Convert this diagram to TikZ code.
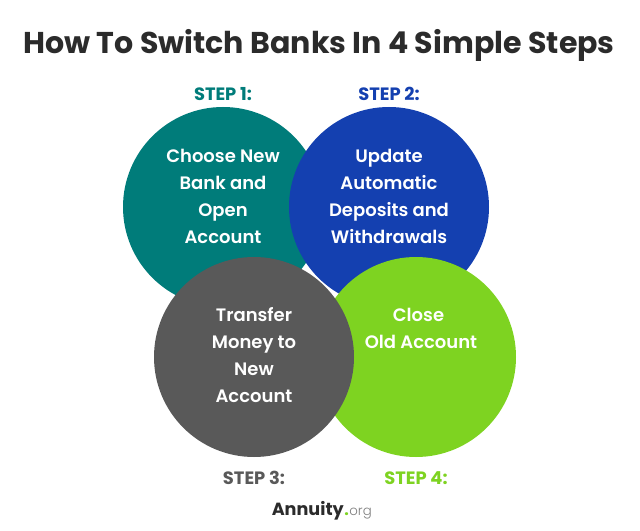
\documentclass[tikz,border=0pt]{standalone}
\usepackage{fontspec}
\setmainfont{Poppins}
\newfontfamily\popsemi{Poppins SemiBold}
\newfontfamily\poplight{Poppins Light}
\definecolor{stepteal}{HTML}{007C7A}
\definecolor{stepblue}{HTML}{1440B0}
\definecolor{stepgray}{HTML}{595959}
\definecolor{stepgreen}{HTML}{7ED321}
\definecolor{titledark}{HTML}{2B2B2B}
\tikzset{
  stepcircle/.style = {circle, minimum size = 150pt, inner sep = 0pt},
  steptext/.style = {text = white, align = center, inner sep = 0pt,
    font = \popsemi\fontsize{13.5}{20.25}\selectfont},
  steplabel/.style = {inner sep = 0pt, font = \bfseries\fontsize{13.4}{15}\selectfont},
}

\begin{document}
\begin{tikzpicture}[x=0.75pt, y=-0.75pt]
\useasboundingbox (0,0) rectangle (640,531);
\fill[white] (0,0) rectangle (640,531);

% heading
\node[inner sep = 0pt, text = titledark, font = \bfseries\fontsize{22.55}{28}\selectfont] (heading) at (319,45) {How To Switch Banks In 4 Simple Steps};

% circles
\node[stepcircle, fill = stepteal] (first) at (223,207) {};
\node[stepcircle, fill = stepblue] (second) at (389,207) {};
\node[stepcircle, fill = stepgreen] (fourth) at (416,357) {};
\node[stepcircle, fill = stepgray] (third) at (254,357) {};

% step labels
\node[steplabel, text = stepteal] (firstlabel) at (223,94) {STEP 1:};
\node[steplabel, text = stepblue] (secondlabel) at (389,94) {STEP 2:};
\node[steplabel, text = stepgray] (thirdlabel) at (254,478) {STEP 3:};
\node[steplabel, text = stepgreen] (fourthlabel) at (416,478) {STEP 4:};

% circle texts
\node[steptext] (firsttext) at (223,196.5) {Choose New\\Bank and\\Open\\Account};
\node[steptext] (secondtext) at (389,196.5) {Update\\Automatic\\Deposits and\\Withdrawals};
\node[steptext] (thirdtext) at (254,355.5) {Transfer\\Money to\\New\\Account};
\node[steptext] (fourthtext) at (421,328.2) {Close\kern3.75pt\\Old Account};

% logo
\node[inner sep = 0pt, anchor = base west, text = titledark, font = \bfseries\fontsize{13.2}{16}\selectfont] (logoname) at (271.5,515) {Annuity};
\node[inner sep = 0pt, anchor = base west, text = stepgreen, font = \bfseries\fontsize{12}{12}\selectfont] (logodot) at (logoname.base east) {.};
\node[inner sep = 0pt, anchor = base west, text = gray, font = \poplight\fontsize{10}{12}\selectfont] (logoorg) at (logodot.base east) {org};
\end{tikzpicture}
\end{document}
